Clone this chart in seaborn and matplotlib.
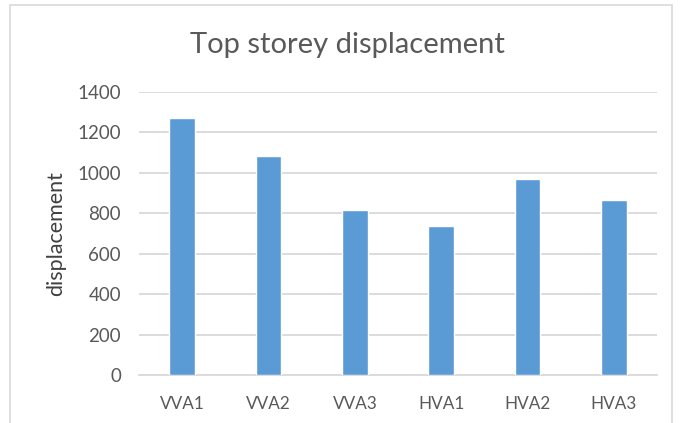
import pandas as pd
import seaborn as sns
import matplotlib.pyplot as plt
from matplotlib.patches import Rectangle

cases = ["VVA1", "VVA2", "VVA3", "HVA1", "HVA2", "HVA3"]
displacement = [1270, 1082, 818, 736, 971, 867]
y_ticks = [0, 200, 400, 600, 800, 1000, 1200, 1400]

df = pd.DataFrame({"case": cases, "displacement": displacement})

sns.set_theme(style="white")
plt.rcParams['font.family'] = ['Lato', 'DejaVu Sans']

fig = plt.figure(figsize=(6.83, 4.23), dpi=100)
ax = fig.add_axes([139 / 683, 1 - 375 / 423, (657 - 139) / 683, (375 - 92) / 423])

sns.barplot(data=df, x="case", y="displacement", color="#5B9BD5",
            width=0.30, saturation=1, ax=ax, zorder=3)

ax.set_ylim(0, 1400)
ax.set_yticks(y_ticks)
ax.set_xlim(-0.5, len(cases) - 0.5)
ax.yaxis.grid(True, color="#D9D9D9", linewidth=1.3, zorder=0)
ax.set_axisbelow(True)
for side in ["top", "right", "left"]:
    ax.spines[side].set_visible(False)
ax.spines["bottom"].set_color("#D9D9D9")
ax.spines["bottom"].set_linewidth(1.3)
ax.tick_params(axis="both", length=0, labelcolor="#595959")
ax.tick_params(axis="x", pad=15, labelsize=12.3)
ax.tick_params(axis="y", pad=13, labelsize=13.5)
ax.set_xlabel("")
ax.set_ylabel("displacement", fontsize=15.5, color="#404040", labelpad=8)

fig.text(347 / 683, 1 - 45 / 423, "Top storey displacement", fontsize=21,
         color="#595959", ha="center", va="center")

fig.patches.append(Rectangle((10 / 683, -0.05), 662 / 683, 1.05 - 5 / 423,
                             transform=fig.transFigure, fill=False,
                             edgecolor="#D9D9D9", linewidth=1.2))

fig.savefig("out.png", dpi=100)
